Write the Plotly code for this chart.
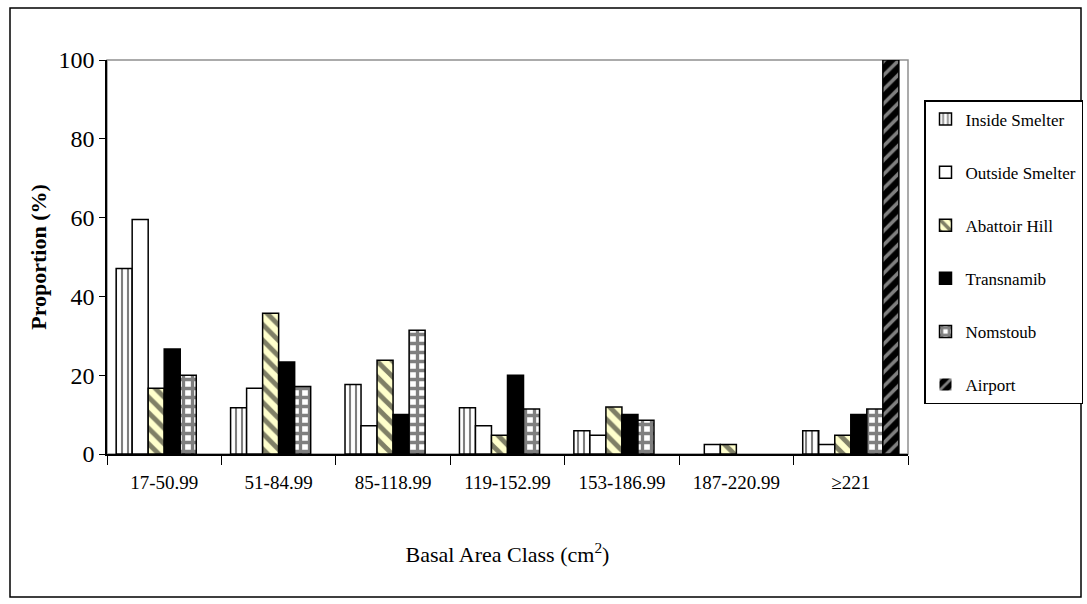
import plotly.graph_objects as go

# Basal area classes (cm^2)
classes = ["17-50.99", "51-84.99", "85-118.99", "119-152.99",
           "153-186.99", "187-220.99", "≥221"]

# Proportion (%) of trees per class at each site
inside_smelter = [47.06, 11.76, 17.65, 11.76, 5.88, 0, 5.88]
outside_smelter = [59.52, 16.67, 7.14, 7.14, 4.76, 2.38, 2.38]
abattoir_hill = [16.67, 35.71, 23.81, 4.76, 11.90, 2.38, 4.76]
transnamib = [26.67, 23.33, 10.0, 20.0, 10.0, 0, 10.0]
nomstoub = [20.0, 17.14, 31.43, 11.43, 8.57, 0, 11.43]
airport = [0, 0, 0, 0, 0, 0, 100.0]

y_ticks = [0, 20, 40, 60, 80, 100]

W, H = 1087, 604
ML, MR, MT, MB = 107, 179, 60, 150
PW, PH = W - ML - MR, H - MT - MB

SERIF = "Liberation Serif"

series = [
    ("Inside Smelter", inside_smelter,
     dict(shape="|", fgcolor="black", bgcolor="white", size=6, solidity=0.35)),
    ("Outside Smelter", outside_smelter,
     dict(shape="", bgcolor="white")),
    ("Abattoir Hill", abattoir_hill,
     dict(shape="\\", fgcolor="black", bgcolor="#FFFFCC", size=11, solidity=0.45)),
    ("Transnamib", transnamib,
     dict(shape="", bgcolor="black")),
    ("Nomstoub", nomstoub,
     dict(shape="+", fgcolor="black", bgcolor="white", size=9, solidity=0.6)),
    ("Airport", airport,
     dict(shape="/", fgcolor="white", bgcolor="black", size=10, solidity=0.35)),
]

fig = go.Figure()
for name, vals, pat in series:
    fig.add_trace(go.Bar(
        x=classes, y=vals, name=name,
        legendgroup=name,
        marker=dict(
            color=pat.get("bgcolor", "white"), pattern=pat,
            # no outline on empty classes
            line=dict(color="black", width=[1.5 if v > 0 else 0 for v in vals]),
        ),
    ))

# plot-area frame: grey on top and right
fig.add_shape(type="rect", xref="paper", yref="paper", x0=0, x1=1, y0=0, y1=1,
              line=dict(color="#909090", width=1.5), layer="below")
# outer chart border
fig.add_shape(type="rect", xref="paper", yref="paper",
              x0=(10 - ML) / PW, x1=(1081 - ML) / PW,
              y0=(H - MB - 597) / PH, y1=(H - MB - 8) / PH,
              line=dict(color="black", width=1.5))

fig.update_layout(
    width=W, height=H,
    margin=dict(l=ML, r=MR, t=MT, b=MB, autoexpand=False),
    paper_bgcolor="white", plot_bgcolor="white",
    barmode="group", bargap=0.16, bargroupgap=0,
    font=dict(family=SERIF, color="black"),
    showlegend=True,
    legend=dict(
        xref="container", yref="container",
        x=924 / W, xanchor="left",
        y=1 - 100 / H, yanchor="top",
        bordercolor="black", borderwidth=1.5,
        font=dict(family=SERIF, size=17, color="black"),
        traceorder="grouped", tracegroupgap=28,
        itemwidth=30, maxheight=1.0,
    ),
    xaxis=dict(
        showline=True, linecolor="black", linewidth=1.5,
        ticks="outside", tickson="boundaries", ticklen=9,
        tickcolor="black", tickwidth=1.2,
        ticklabelstandoff=10,
        tickfont=dict(family=SERIF, size=19),
        title=dict(text="Basal Area Class (cm<sup>2</sup>)",
                   font=dict(family=SERIF, size=22), standoff=55),
        showgrid=False,
    ),
    yaxis=dict(
        range=[0, 100], tickvals=y_ticks,
        showline=True, linecolor="black", linewidth=1.5,
        ticks="outside", ticklen=6, tickcolor="black", tickwidth=1.2,
        tickfont=dict(family=SERIF, size=24),
        title=dict(text="<b>Proportion (%)</b>",
                   font=dict(family=SERIF, size=22), standoff=6),
        showgrid=False, zeroline=False,
    ),
)

fig.write_html("out.html")
